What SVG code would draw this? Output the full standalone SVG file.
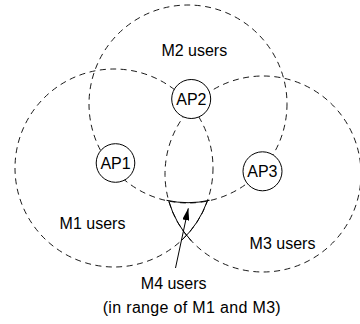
<svg xmlns="http://www.w3.org/2000/svg" width="360" height="324" viewBox="0 0 360 324">
<style>
.range{fill:none;stroke:#000;stroke-width:0.9;stroke-dasharray:6,4.5}
.solid{fill:none;stroke:#000;stroke-width:1}
.ap{fill:#fff;stroke:#000;stroke-width:1}
text{font-family:"Liberation Sans",Arial,sans-serif;font-size:16px;fill:#000;text-anchor:middle}
</style>
<defs>
<marker id="ah" viewBox="0 0 12 7" refX="12" refY="3.5" markerWidth="12" markerHeight="7" markerUnits="userSpaceOnUse" orient="auto">
<path d="M0,0 L12,3.5 L0,7 z" fill="#000"/>
</marker>
</defs>
<g id="ranges">
<circle id="range-M1" class="range" cx="114" cy="168" r="99"/>
<circle id="range-M2" class="range" cx="188" cy="104" r="99"/>
<circle id="range-M3" class="range" cx="263" cy="174" r="98"/>
</g>
<g id="M4-region">
<path class="solid" d="M166.5,200.3 A99,99 0 0,0 209.6,200.3"/>
<path class="solid" d="M168.8,201.1 A98,98 0 0,0 191.3,240.8"/>
<path class="solid" d="M207.3,201.1 A99,99 0 0,1 181.5,240.4"/>
</g>
<g id="AP1">
<circle class="ap" cx="115.5" cy="163" r="19.3"/>
<text x="115.5" y="168.7">AP1</text>
</g>
<g id="AP2">
<circle class="ap" cx="191.2" cy="99" r="19.5"/>
<text x="191.4" y="104.6">AP2</text>
</g>
<g id="AP3">
<circle class="ap" cx="262.5" cy="171.3" r="19.5"/>
<text x="262.4" y="177">AP3</text>
</g>
<g id="labels">
<text x="194.3" y="55.5">M2 users</text>
<text x="92.5" y="229.3">M1 users</text>
<text x="282.5" y="249.3">M3 users</text>
<text x="173.7" y="289.3">M4 users</text>
<text x="191.7" y="312.7" textLength="178" lengthAdjust="spacing">(in range of M1 and M3)</text>
</g>
<g id="connectors">
<line x1="175.5" y1="268" x2="188.3" y2="208.3" stroke="#000" stroke-width="1" marker-end="url(#ah)"/>
</g>
</svg>
